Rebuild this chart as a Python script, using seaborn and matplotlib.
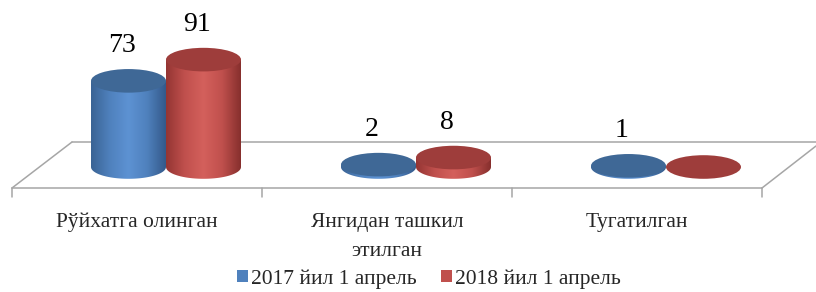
import numpy as np
import pandas as pd
import matplotlib
matplotlib.use("Agg")
import matplotlib.pyplot as plt
import seaborn as sns
from matplotlib.patches import Ellipse, Polygon, Patch
from matplotlib.lines import Line2D
from matplotlib.colors import LinearSegmentedColormap

# ---- data ----
categories = ["Рўйхатга олинган", "Янгидан ташкил\nэтилган", "Тугатилган"]
series = ["2017 йил 1 апрель", "2018 йил 1 апрель"]
values_2017 = [73, 2, 1]
values_2018 = [91, 8, 0]
labels_2017 = ["73", "2", "1"]
labels_2018 = ["91", "8", ""]

df = pd.DataFrame({
    "cat": categories * 2,
    "series": [series[0]] * 3 + [series[1]] * 3,
    "value": values_2017 + values_2018,
})

sns.set_theme(style="white")
plt.rcParams["font.family"] = ["Liberation Serif", "DejaVu Serif"]

W, H = 816, 292
fig = plt.figure(figsize=(W / 100, H / 100), dpi=100)
ax = fig.add_axes([41 / W, 0, 750 / W, 1])

body = {series[0]: "#4F81BD", series[1]: "#C0504D"}
tops = {series[0]: "#3F6896", series[1]: "#9E3D3B"}
cmaps = {
    series[0]: LinearSegmentedColormap.from_list(
        "b", ["#3A6394", "#4F81BD", "#5D92D3", "#4F81BD", "#34598A"]),
    series[1]: LinearSegmentedColormap.from_list(
        "r", ["#943533", "#C0504D", "#D4605C", "#C0504D", "#862F2D"]),
}

sns.barplot(data=df, x="cat", y="value", hue="series", palette=body,
            width=0.6, saturation=1, ax=ax, legend=False)

PX_PER_UNIT = 1.18
ax.set_xlim(-0.5, 2.5)
ylo = -125 / PX_PER_UNIT
ax.set_ylim(ylo, ylo + H / PX_PER_UNIT)
ax.axis("off")

EH = 20  # ellipse height in value units
all_labels = [labels_2017, labels_2018]
grad = np.linspace(0, 1, 256).reshape(1, -1)
for i, (s, cont) in enumerate(zip(series, ax.containers)):
    zb = 2 + i
    for j, bar in enumerate(cont):
        x0, w, h = bar.get_x(), bar.get_width(), bar.get_height()
        cx = x0 + w / 2
        bar.set_visible(False)
        if h > 0:
            t = np.linspace(np.pi, 2 * np.pi, 60)
            pts = [(cx + w / 2 * np.cos(a), EH / 2 * np.sin(a)) for a in t]
            pts += [(x0 + w, h), (x0, h)]
            clip = Polygon(pts, closed=True, transform=ax.transData,
                           facecolor="none", edgecolor="none")
            ax.add_patch(clip)
            im = ax.imshow(grad, cmap=cmaps[s], extent=[x0, x0 + w, -EH / 2, h],
                           aspect="auto", zorder=zb, interpolation="bicubic")
            im.set_clip_path(clip)
        ax.add_patch(Ellipse((cx, h), w, EH, facecolor=tops[s],
                             edgecolor="none", zorder=zb + 0.1))
        lab = all_labels[i][j]
        if lab:
            ax.annotate(lab, (cx, h + EH / 2), xytext=(-5, 8),
                        textcoords="offset points", ha="center", va="bottom",
                        fontsize=20, color="black", zorder=10)
ax.set_xlim(-0.5, 2.5)
ax.set_ylim(ylo, ylo + H / PX_PER_UNIT)

# ---- floor (decoration) ----
def fx(px):
    return px / W

def fy(py):
    return 1 - py / H

floor_col = "#A6A6A6"
floor = [((12, 188), (762, 188)), ((72, 142), (816, 142)),
         ((12, 188), (72, 142)), ((762, 188), (816, 146))]
for (a, b) in floor:
    fig.add_artist(Line2D([fx(a[0]), fx(b[0])], [fy(a[1]), fy(b[1])],
                          transform=fig.transFigure, color=floor_col,
                          lw=1.1, zorder=-1))
for tx in [12, 262, 512, 762]:
    fig.add_artist(Line2D([fx(tx), fx(tx)], [fy(188), fy(197)],
                          transform=fig.transFigure, color=floor_col,
                          lw=1.1, zorder=-1))

# ---- category labels ----
for k, c in enumerate(categories):
    fig.text(fx(137 + 250 * k), fy(213), c, ha="center", va="top",
             fontsize=15.5, linespacing=1.75)

# ---- legend ----
handles = [Patch(facecolor=body[s], edgecolor="none") for s in series]
fig.legend(handles, series, loc="center", bbox_to_anchor=(fx(429), fy(279)),
           ncol=2, frameon=False, fontsize=15.5, handlelength=0.5,
           handleheight=0.5, handletextpad=0.15, columnspacing=1.1)

fig.savefig("out.png", dpi=100)
